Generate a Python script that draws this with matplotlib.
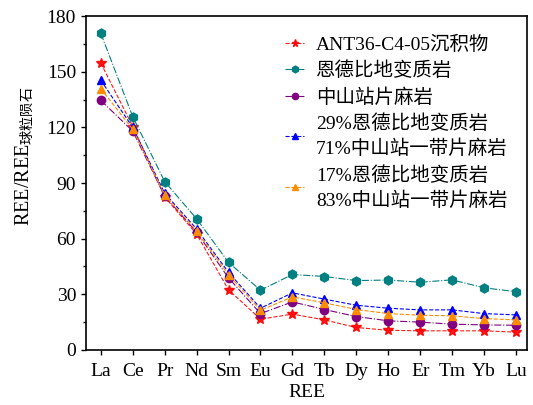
import numpy as np
import matplotlib
matplotlib.use('Agg')
import matplotlib.pyplot as plt
from matplotlib.ticker import MultipleLocator

plt.rcParams['font.family'] = ['Liberation Serif', 'Noto Sans CJK SC']
plt.rcParams['mathtext.fontset'] = 'custom'
plt.rcParams['mathtext.rm'] = 'Noto Sans CJK SC'

elements = ['La', 'Ce', 'Pr', 'Nd', 'Sm', 'Eu', 'Gd', 'Tb', 'Dy', 'Ho', 'Er', 'Tm', 'Yb', 'Lu']

ant36 = [154.7, 120.5, 82.5, 62.5, 32.4, 16.6, 19.3, 16.2, 12.1, 10.6, 10.3, 10.3, 10.3, 9.6]
enderby = [170.7, 125.8, 90.8, 70.7, 47.2, 32.2, 40.7, 39.6, 37.4, 37.7, 36.5, 37.8, 33.5, 31.4]
zhongshan = [134.6, 118.0, 83.0, 63.5, 38.8, 19.6, 25.9, 21.8, 18.0, 15.7, 15.0, 13.9, 13.5, 13.3]
mix29 = [145.4, 120.0, 84.5, 65.2, 41.8, 22.5, 30.8, 27.4, 24.1, 22.5, 21.6, 21.6, 19.6, 18.9]
mix17 = [140.9, 119.0, 83.5, 64.2, 40.5, 21.4, 28.6, 25.4, 21.8, 19.6, 18.7, 18.4, 16.9, 16.2]

labels = ['ANT36-C4-05沉积物', '恩德比地变质岩', '中山站片麻岩',
          '29%恩德比地变质岩\n71%中山站一带片麻岩',
          '17%恩德比地变质岩\n83%中山站一带片麻岩']

x = np.arange(len(elements))

fig = plt.figure(figsize=(5.33, 4.05), dpi=100)
ax = fig.add_axes([0.161, 0.136, 0.828, 0.824])

ax.plot(x, ant36, color='red', marker='*', ms=7, ls='--', lw=0.8, alpha=0.9, label=labels[0])
ax.plot(x, enderby, color='teal', marker='h', ms=6.5, ls='-.', lw=0.8, label=labels[1])
ax.plot(x, zhongshan, color='purple', marker='o', ms=6, ls='-.', lw=0.8, label=labels[2])
ax.plot(x, mix29, color='blue', marker='^', ms=6, ls='--', lw=0.8, label=labels[3])
ax.plot(x, mix17, color='darkorange', marker='^', ms=6, ls='--', lw=0.8, label=labels[4])

ax.set_xlim(-0.47, 13.35)
ax.set_ylim(0, 180)
ax.set_xticks(x)
ax.set_xticklabels(elements)
ax.yaxis.set_major_locator(MultipleLocator(30))
ax.yaxis.set_minor_locator(MultipleLocator(15))
ax.tick_params(labelsize=14, direction='out', width=1)
ax.tick_params(axis='x', pad=6)
ax.tick_params(which='minor', length=2.5, width=1)
for s in ax.spines.values():
    s.set_linewidth(1.2)

ax.set_xlabel('REE', fontsize=14, labelpad=3)
ax.set_ylabel(r'REE/REE$_{\mathrm{球粒陨石}}$', fontsize=14.5)
ax.yaxis.set_label_coords(-0.115, 0.58)

leg = ax.legend(loc='upper right', frameon=False, fontsize=14, handlelength=1.0,
                handletextpad=0.6, labelspacing=0.4, markerscale=0.75,
                borderaxespad=0.4, borderpad=0.6)
for t in leg.get_texts():
    t.set_linespacing(1.45)

fig.savefig('out.png', dpi=100)
